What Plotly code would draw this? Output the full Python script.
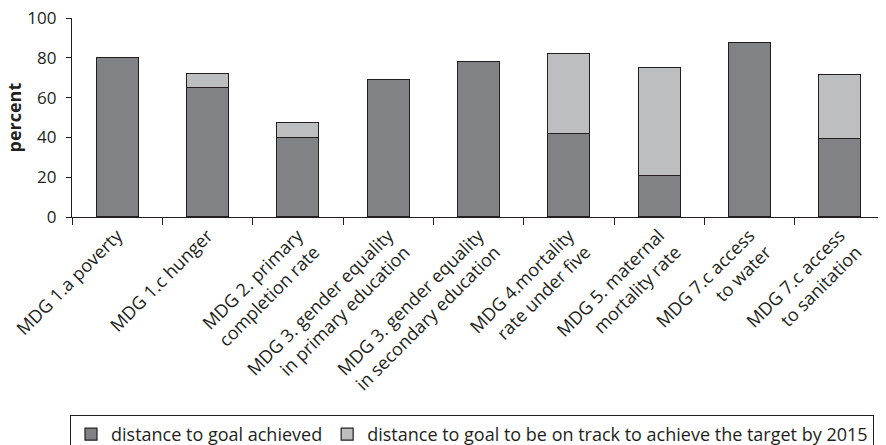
import plotly.graph_objects as go

categories = [
    "MDG 1.a poverty",
    "MDG 1.c hunger",
    "MDG 2. primary<br>completion rate",
    "MDG 3. gender equality<br>in primary education",
    "MDG 3. gender equality<br>in secondary education",
    "MDG 4.mortality<br>rate under five",
    "MDG 5. maternal<br>mortality rate",
    "MDG 7.c access<br>to water",
    "MDG 7.c access<br>to sanitation",
]
achieved = [80, 65, 40, 69, 78, 42, 21, 87.5, 39.5]
on_track_gap = [0, 7, 7.3, 0, 0, 40, 54.3, 0, 32]
y_ticks = [0, 20, 40, 60, 80, 100]

FONT = "Open Sans"
LINE = "#231f20"

# the page adds an 8 px body margin, so the figure is 8 px smaller and shifted
OFF = 8
W, H = 886 - OFF, 445 - OFF
PLOT_W = 885 - 72

fig = go.Figure()
fig.add_trace(go.Bar(
    x=categories, y=achieved, name="distance to goal achieved",
    marker=dict(color="#808285", line=dict(color=LINE, width=1.2)),
    width=0.465,
))
fig.add_trace(go.Bar(
    x=categories, y=on_track_gap,
    name="distance to goal to be on track to achieve the target by 2015",
    marker=dict(color="#bcbec0", line=dict(color=LINE, width=1.2)),
    width=0.465,
))

fig.update_layout(
    barmode="stack",
    width=W, height=H,
    margin=dict(l=72 - OFF, r=W - (885 - OFF), t=18 - OFF, b=H - (217 - OFF),
                pad=0, autoexpand=False),
    paper_bgcolor="white", plot_bgcolor="white",
    font=dict(family=FONT, size=18, color="#231f20"),
    showlegend=True,
    legend=dict(
        orientation="h", xref="container", yref="container",
        x=(70 - OFF) / W, xanchor="left", y=1 - (415 - OFF) / H, yanchor="top",
        bordercolor=LINE, borderwidth=1, font=dict(size=18),
        traceorder="normal", itemwidth=30,
    ),
    xaxis=dict(
        type="category", range=[-0.5, 8.5], tickangle=-45, automargin=False,
        showline=True, linecolor=LINE, linewidth=1.2,
        ticks="outside", ticklen=7, tickcolor=LINE, tickwidth=1.2,
        tickson="boundaries", tickfont=dict(size=18), showgrid=False,
        ticklabeloverflow="allow",
    ),
    yaxis=dict(
        range=[0, 100], tickvals=y_ticks, showline=True, linecolor=LINE, linewidth=1.2,
        ticks="outside", ticklen=5, tickcolor=LINE, tickwidth=1.2, automargin=False,
        showgrid=False, zeroline=False, tickfont=dict(size=17),
        ticklabeloverflow="allow", ticklabelstandoff=6,
    ),
    annotations=[dict(
        text="<b>percent</b>", xref="paper", yref="paper",
        x=(13 - 72) / PLOT_W, y=0.5, xanchor="center", yanchor="middle",
        textangle=-90, showarrow=False, font=dict(size=18),
    )],
)

fig.write_html("out.html")
